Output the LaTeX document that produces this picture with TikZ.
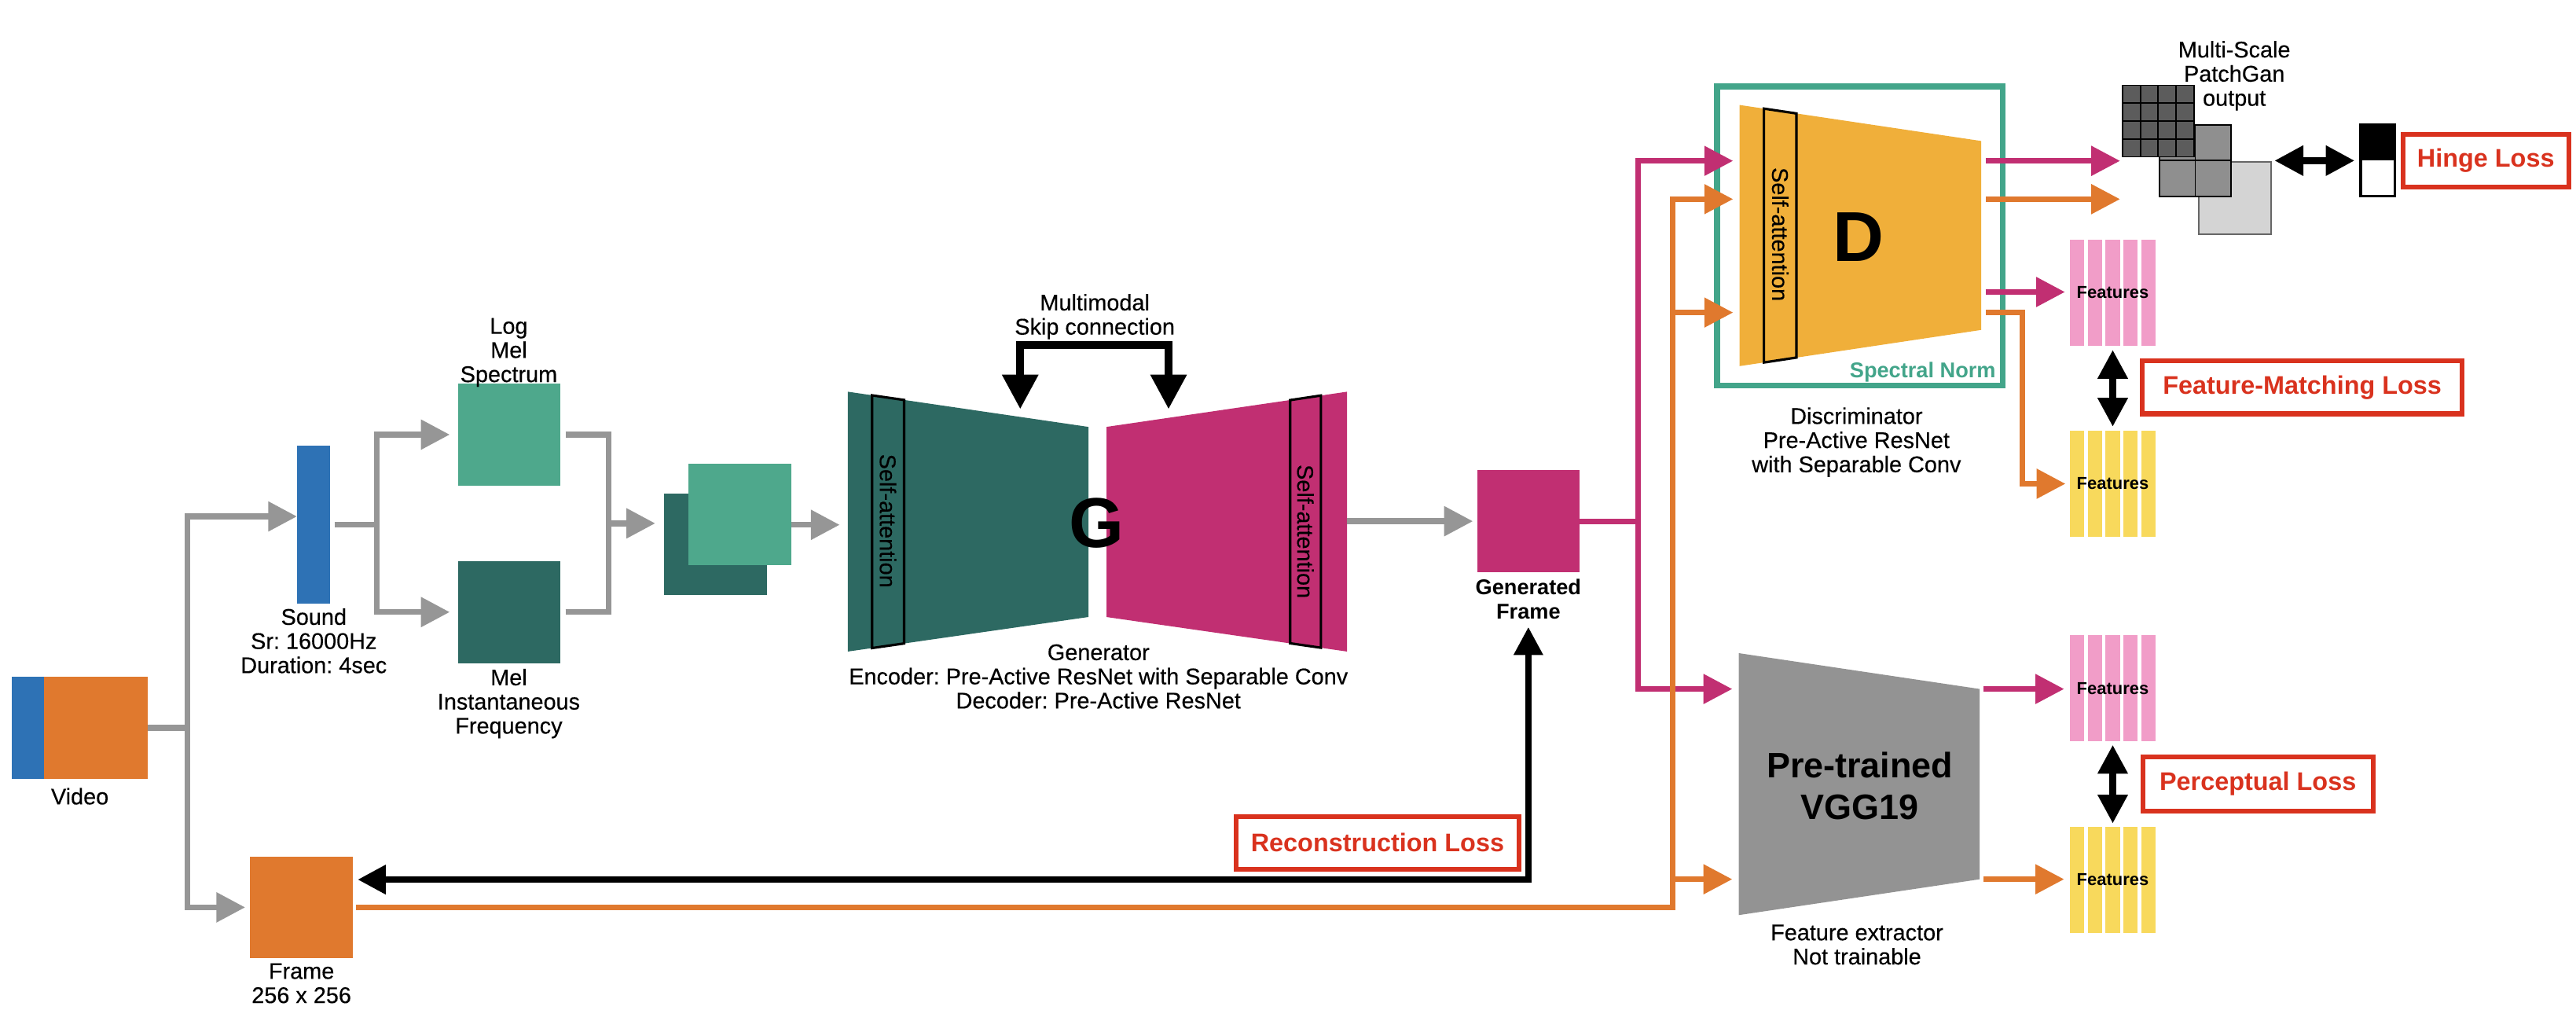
\documentclass[tikz,border=0pt]{standalone}
\usepackage{fontspec}
\setmainfont{Liberation Sans}[UprightFeatures={FakeBold=0.3}]
\usetikzlibrary{arrows.meta,positioning}
\frenchspacing

\definecolor{sndblue}{RGB}{46,114,181}
\definecolor{vidorange}{RGB}{224,121,46}
\definecolor{teallight}{RGB}{78,168,140}
\definecolor{tealdark}{RGB}{45,105,98}
\definecolor{genmag}{RGB}{193,47,114}
\definecolor{arrgray}{RGB}{150,150,150}
\definecolor{discyel}{RGB}{240,175,58}
\definecolor{vgggray}{RGB}{147,147,147}
\definecolor{snorm}{RGB}{67,165,138}
\definecolor{featpink}{RGB}{241,157,200}
\definecolor{featyel}{RGB}{248,217,92}
\definecolor{lossred}{RGB}{217,50,30}
\definecolor{pgdarkc}{RGB}{92,92,92}
\definecolor{pgmidc}{RGB}{143,143,143}
\definecolor{pglightc}{RGB}{212,212,212}

\begin{document}
\begin{tikzpicture}[
    x=1pt, y=-1pt,
    lbl/.style={font=\fontsize{13.8}{14.7}\selectfont, align=center, inner sep=0pt},
    blk/.style={inner sep=0pt, outer sep=0pt, minimum width=62.5pt, minimum height=62pt},
    feat/.style={inner sep=0pt, outer sep=0pt, minimum width=52.2pt, minimum height=64.5pt, font=\bfseries\fontsize{10.5}{12}\selectfont},
    loss/.style={draw=lossred, line width=3pt, text=lossred, inner sep=0pt, font=\bfseries\fontsize{15.5}{18}\selectfont},
    cell/.style={draw=black, line width=0.9pt, inner sep=0pt, outer sep=0pt, minimum size=43.5pt},
    sattn/.style={draw=black, line width=1.5pt},
    gline/.style={draw=arrgray, line width=3.5pt},
    garr/.style={gline, -{Triangle[length=17.5pt,width=17.5pt]}},
    mline/.style={draw=genmag, line width=3.3pt},
    marr/.style={mline, -{Triangle[length=17.5pt,width=17.5pt]}},
    oline/.style={draw=vidorange, line width=3.3pt},
    oarr/.style={oline, -{Triangle[length=17.5pt,width=17.5pt]}},
    kdbl/.style={draw=black, line width=4pt, {Triangle[length=17.5pt,width=17.5pt]}-{Triangle[length=17.5pt,width=17.5pt]}}
]
\useasboundingbox (0,0) rectangle (1568,621);

% --- Video input ---
\node[blk, fill=vidorange, minimum width=83pt] (video) at (48.5,443) {};
\fill[sndblue] (video.north west) rectangle ([xshift=20pt]video.south west);
\node[lbl] (videolbl) at (48.6,484.6) {Video};
\coordinate (vsplit) at (114,443);
\draw[gline] (video.east) -- (vsplit);

% --- Sound and spectrograms ---
\node[blk, fill=sndblue, minimum width=20pt, minimum height=96pt] (sound) at (190.75,319.3) {};
\node[lbl] (soundlbl) at (191,390) {Sound\\Sr: 16000Hz\\Duration: 4sec};
\draw[garr] (vsplit) |- ([yshift=5pt]sound.west);

\node[blk, fill=teallight] (logmel) at (310,264.5) {};
\node[blk, fill=tealdark] (melif) at (310,372.5) {};
\node[lbl] (logmellbl) at (309.7,214.5) {Log\\Mel\\Spectrum};
\node[lbl] (meliflbl) at (309.7,428.2) {Mel\\Instantaneous\\Frequency};
\coordinate (ssplit) at (229.2,319.3);
\draw[gline, shorten <=3pt] (sound.east) -- (ssplit);
\draw[garr, shorten >=5pt] (ssplit) |- (logmel.west);
\draw[garr, shorten >=5pt] (ssplit) |- (melif.west);

\coordinate (msplit) at (370.5,318.5);
\draw[gline, shorten <=3pt] (logmel.east) -| (msplit);
\draw[gline, shorten <=3pt] (melif.east) -| (msplit);
\node[blk, fill=tealdark] (specback) at (435.6,331.2) {};
\node[blk, fill=teallight] (specfront) at (450.3,313) {};
\draw[garr, shorten >=5.5pt] (msplit) -- (specback.west |- msplit);

% --- Generator ---
\fill[tealdark] (516.1,238.4) -- (662.5,259.8) -- (662.5,375.5) -- (516.1,396.5) -- cycle;
\fill[genmag] (673.5,259.8) -- (819.9,238.4) -- (819.9,396.5) -- (673.5,375.5) -- cycle;
\draw[sattn] (530.8,240.6) -- (550.3,243.4) -- (550.3,391.6) -- (530.8,394.4) -- cycle;
\draw[sattn] (785.3,243.5) -- (804,240.7) -- (804,394.2) -- (785.3,391.5) -- cycle;
\node[lbl, rotate=-90] (encattn) at (540.5,317) {Self-attention};
\node[lbl, rotate=-90] (decattn) at (794.6,323.4) {Self-attention};
\node[font=\bfseries\fontsize{43}{43}\selectfont, inner sep=0pt] (glbl) at (667.4,318.4) {G};
\node[lbl] (genlbl) at (668.6,411.7) {Generator\\Encoder: Pre-Active ResNet with Separable Conv\\Decoder: Pre-Active ResNet};
\coordinate (encin) at (516.1,319.4);
\coordinate (decout) at (819.9,317.2);
\draw[garr, shorten >=5pt] (specfront.east |- encin) -- (encin);

\coordinate (skipl) at (621,249);
\coordinate (skipr) at (711.3,249);
\draw[draw=black, line width=4.7pt, {Triangle[length=21pt,width=21pt]}-{Triangle[length=21pt,width=21pt]}] (skipl) -- ++(0,-39) -| (skipr);
\node[lbl] (skiplbl) at (666.4,192.7) {Multimodal\\Skip connection};

% --- Generated frame and real frame ---
\node[blk, fill=genmag] (genframe) at (930.3,317.2) {};
\node[lbl, font=\bfseries\fontsize{13}{15}\selectfont] (genframelbl) at (930.3,364.5) {Generated\\Frame};
\draw[garr, shorten >=2.5pt] (decout) -- (genframe.west);

\node[blk, fill=vidorange] (frame) at (183.5,552.2) {};
\node[lbl] (framelbl) at (183.5,598.4) {Frame\\256 x 256};
\draw[garr, shorten >=3pt] (vsplit) |- (frame.west);

\coordinate (reconup) at (930.3,381.6);
\draw[draw=black, line width=3.8pt, {Triangle[length=17pt,width=17pt]}-{Triangle[length=17pt,width=17pt]}, shorten <=3pt] ([yshift=16.9pt]frame.east) -| (reconup);
\node[loss, minimum width=172pt, minimum height=32pt] (reconloss) at (838.5,512.9) {Reconstruction Loss};

% --- Discriminator ---
\node[draw=snorm, line width=3.6pt, inner sep=0pt, minimum width=174pt, minimum height=182.2pt] (snbox) at (1132.1,143.6) {};
\fill[discyel] (1058.9,63.9) -- (1205.9,85.8) -- (1205.9,200.8) -- (1058.9,222.8) -- cycle;
\draw[sattn] (1073.7,66.1) -- (1093.5,69.05) -- (1093.5,217.6) -- (1073.7,220.6) -- cycle;
\node[lbl, rotate=-90] (dattn) at (1083.6,142.6) {Self-attention};
\node[font=\bfseries\fontsize{43}{43}\selectfont, inner sep=0pt] (dlbl) at (1131.4,144.1) {D};
\node[lbl, font=\bfseries\fontsize{13}{15}\selectfont, text=snorm, anchor=east] (snlbl) at (1215,226.5) {Spectral Norm};
\node[lbl] (dsclbl) at (1130,269.1) {Discriminator\\Pre-Active ResNet\\with Separable Conv};
\coordinate (din1) at (1058.9,97.9);
\coordinate (din2) at (1058.9,121.2);
\coordinate (din3) at (1058.9,190.2);
\coordinate (dout1) at (1205.9,97.9);
\coordinate (dout2) at (1205.9,121.2);
\coordinate (dout3) at (1205.9,177.7);
\coordinate (dout4) at (1205.9,190.2);

% --- VGG19 ---
\fill[vgggray] (1058.4,397.5) -- (1205,419.3) -- (1205,535.1) -- (1058.4,556.9) -- cycle;
\node[font=\bfseries\fontsize{21.5}{25}\selectfont, align=center, inner sep=0pt] (vgglbl) at (1132.1,478.3) {Pre-trained\\VGG19};
\node[lbl] (vggsub) at (1130.3,574.9) {Feature extractor\\Not trainable};
\coordinate (vggin1) at (1058.4,419.3);
\coordinate (vggin2) at (1058.4,535.1);
\coordinate (vggout1) at (1205,419.3);
\coordinate (vggout2) at (1205,535.1);

% --- Fake and real inputs ---
\coordinate (mturn) at (997,317.2);
\draw[mline] (genframe.east) -- (mturn);
\draw[marr, shorten >=4pt] (mturn) |- (din1);
\draw[marr, shorten >=4pt] (mturn) |- (vggin1);
\coordinate (oturn) at (1018,552.2);
\draw[oarr, shorten <=1.7pt, shorten >=4pt] (frame.east) -| (oturn |- din2) -- (din2);
\draw[oarr, shorten >=4pt] (oturn |- din3) -- (din3);
\draw[oarr, shorten >=4pt] (oturn |- vggin2) -- (vggin2);

% --- PatchGan output ---
\node[cell, draw=black!60, fill=pglightc, minimum size=44pt] (pglight) at (1360.2,120.6) {};
\node[cell, fill=pgmidc] (pgmid) at (1336.25,97.75) {};
\draw[line width=0.9pt] (pgmid.north) -- (pgmid.south) (pgmid.west) -- (pgmid.east);
\node[cell, fill=pgdarkc] (pgdark) at (1313.7,73.65) {};
\foreach \k in {1,2,3} {
    \draw[line width=0.9pt] ([xshift=\k*10.875pt]pgdark.north west) -- ([xshift=\k*10.875pt]pgdark.south west);
    \draw[line width=0.9pt] ([yshift=-\k*10.875pt]pgdark.north west) -- ([yshift=-\k*10.875pt]pgdark.north east);
}
\node[lbl] (pglbl) at (1360,46.1) {Multi-Scale\\PatchGan\\output};

\node[draw, line width=1.8pt, inner sep=0pt, outer sep=0pt, minimum width=20.8pt, minimum height=43.1pt] (bwind) at (1447.3,97.75) {};
\fill (bwind.north west) rectangle (bwind.east);
\draw[kdbl, shorten <=2.3pt, shorten >=3.7pt] (pglight.east |- bwind) -- (bwind.west);
\node[loss, minimum width=100.8pt, minimum height=32.1pt] (hingeloss) at (1513.1,97.85) {Hinge Loss};

% --- Features ---
\foreach \fx/\fy/\fc in {1286/178/featpink, 1286/294.4/featyel, 1286/418.9/featpink, 1286/535.35/featyel} {
    \foreach \i in {0,...,4}
        \fill[\fc] (\fx-26.1+\i*10.875, \fy-32.25) rectangle ++(8.7,64.5);
}
\node[feat] (dfeatp) at (1286,178) {Features};
\node[feat] (dfeaty) at (1286,294.4) {Features};
\node[feat] (vfeatp) at (1286,418.9) {Features};
\node[feat] (vfeaty) at (1286,535.35) {Features};

\draw[marr, shorten <=2.8pt, shorten >=1.5pt] (dout1) -- (pgdark.west |- dout1);
\draw[oarr, shorten <=2.8pt, shorten >=1.5pt] (dout2) -- (pgdark.west |- dout2);
\draw[marr, shorten <=2.8pt, shorten >=3pt] (dout3) -- (dfeatp.west |- dout3);
\draw[oarr, shorten <=2.8pt, shorten >=2.7pt] (dout4) -- ++(25.1,0) |- (dfeaty.west);
\draw[marr, shorten <=2.5pt, shorten >=3.5pt] (vggout1) -- (vfeatp.west |- vggout1);
\draw[oarr, shorten <=2.5pt, shorten >=3.5pt] (vggout2) -- (vfeaty.west |- vggout2);

% --- Losses ---
\draw[kdbl, shorten <=2.7pt, shorten >=2.5pt] (dfeatp.south) -- (dfeaty.north);
\draw[kdbl, shorten <=2.2pt, shorten >=2pt] (vfeatp.south) -- (vfeaty.north);
\node[loss, minimum width=194.5pt, minimum height=32.2pt] (fmloss) at (1401.35,235.7) {Feature-Matching Loss};
\node[loss, minimum width=140.1pt, minimum height=33pt] (perloss) at (1374.35,477) {Perceptual Loss};
\end{tikzpicture}
\end{document}
